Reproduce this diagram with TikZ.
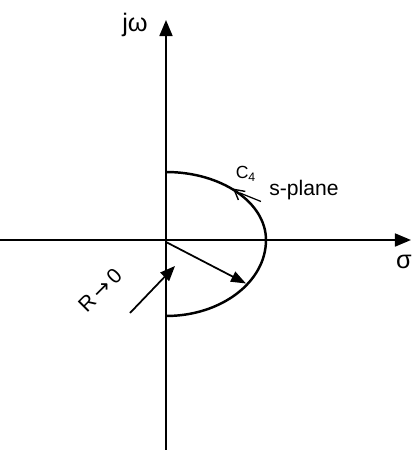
\documentclass[tikz,border=0pt]{standalone}
\usepackage{fontspec}
\setmainfont{Liberation Sans}
\newfontfamily\symfont{DejaVu Sans}
\usepackage{tikz}
\usetikzlibrary{arrows.meta,decorations.markings,calc}

\begin{document}
\begin{tikzpicture}[axis/.style={line width=1pt, -{Triangle[length=0.32cm,width=0.26cm]}},
  lbl/.style={font=\large, inner sep=1pt}]
\useasboundingbox (-3.32,-4.2) rectangle (4.98,4.8);
\coordinate (O) at (0,0);
\coordinate (ybot) at (0,-4.2);
\coordinate (ytop) at (0,4.4);
\coordinate (xleft) at (-3.32,0);
\coordinate (xright) at (4.9,0);
\draw[axis] (ybot) -- (ytop);
\draw[axis] (xleft) -- (xright);
\node[lbl, font=\Large] (jw) at (-0.62,4.3) {jω};
\node[lbl, font=\Large] (sigma) at (4.76,-0.44) {σ};
% contour C4
\draw[line width=1.4pt, postaction={decorate}, decoration={markings,
  mark=at position 0.3 with {\arrow[line width=0.8pt]{Straight Barb[length=0.2cm,width=0.22cm,reversed]}}}]
  (0,1.36) arc[start angle=90, end angle=0, x radius=2, y radius=1.36]
  arc[start angle=0, end angle=-90, x radius=2, y radius=1.52];
\coordinate (t1) at (1.48,0.94);
\coordinate (t2) at (1.9,0.77);
\draw[line width=0.7pt] (t1) -- (t2);
\node[lbl, font=\normalsize] (c4) at (1.6,1.32) {C\textsubscript{4}};
\node[lbl] (splane) at (2.76,1.0) {s-plane};
% radius
\coordinate (rend) at (1.6,-0.87);
\draw[line width=1pt, -{Triangle[length=0.3cm,width=0.22cm]}] (0,-0.04) -- (rend);
\coordinate (a1) at (-0.72,-1.46);
\coordinate (a2) at (0.18,-0.52);
\draw[line width=1pt, -{Triangle[length=0.3cm,width=0.24cm]}] (a1) -- (a2);
\node[lbl, rotate=45] (rlbl) at (-1.32,-1.0) {R\,{\symfont →}\,0};
\end{tikzpicture}
\end{document}
